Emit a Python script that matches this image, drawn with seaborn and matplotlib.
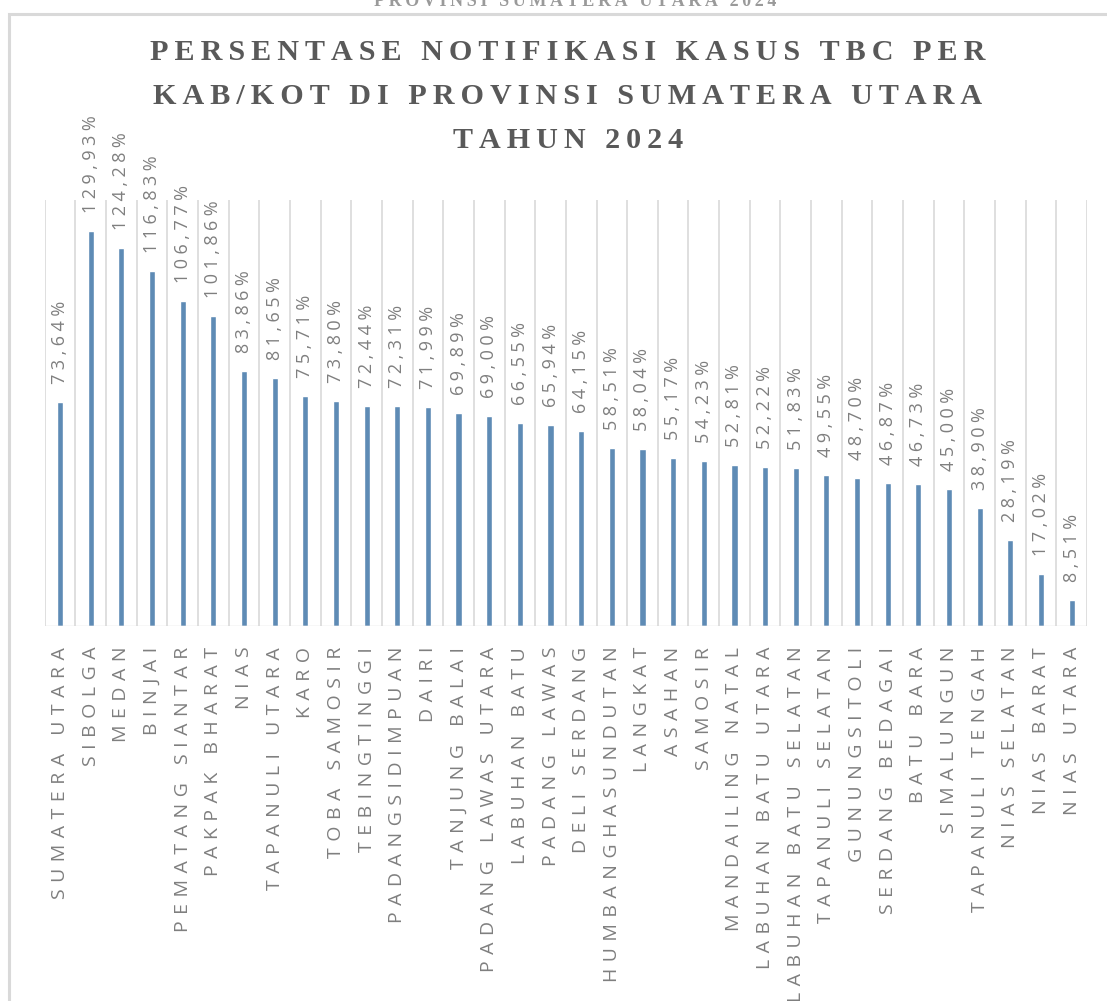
import numpy as np
import pandas as pd
import matplotlib
matplotlib.use("Agg")
import matplotlib.pyplot as plt
from matplotlib.patches import Rectangle
import seaborn as sns

# Kabupaten/kota and their TBC case notification percentage (2024)
regions = [
    "SUMATERA UTARA", "SIBOLGA", "MEDAN", "BINJAI", "PEMATANG SIANTAR",
    "PAKPAK BHARAT", "NIAS", "TAPANULI UTARA", "KARO", "TOBA SAMOSIR",
    "TEBINGTINGGI", "PADANGSIDIMPUAN", "DAIRI", "TANJUNG BALAI",
    "PADANG LAWAS UTARA", "LABUHAN BATU", "PADANG LAWAS", "DELI SERDANG",
    "HUMBANGHASUNDUTAN", "LANGKAT", "ASAHAN", "SAMOSIR", "MANDAILING NATAL",
    "LABUHAN BATU UTARA", "LABUHAN BATU SELATAN", "TAPANULI SELATAN",
    "GUNUNGSITOLI", "SERDANG BEDAGAI", "BATU BARA", "SIMALUNGUN",
    "TAPANULI TENGAH", "NIAS SELATAN", "NIAS BARAT", "NIAS UTARA",
]
percentages = [
    73.64, 129.93, 124.28, 116.83, 106.77, 101.86, 83.86, 81.65, 75.71,
    73.80, 72.44, 72.31, 71.99, 69.89, 69.00, 66.55, 65.94, 64.15, 58.51,
    58.04, 55.17, 54.23, 52.81, 52.22, 51.83, 49.55, 48.70, 46.87, 46.73,
    45.00, 38.90, 28.19, 17.02, 8.51,
]

title_lines = [
    "PERSENTASE NOTIFIKASI KASUS TBC PER",
    "KAB/KOT DI PROVINSI SUMATERA UTARA",
    "TAHUN 2024",
]
header_text = "PROVINSI SUMATERA UTARA 2024"

BAR_COLOR = "#5E8BB5"
TEXT_GREY = "#7F7F7F"
TITLE_GREY = "#595959"
GRID_GREY = "#D9D9D9"

SANS = ["Open Sans", "DejaVu Sans"]
SERIF = ["Liberation Serif", "DejaVu Serif"]

THREE_PER_EM = "\u2004"
FOUR_PER_EM = "\u2005"
THIN_SPACE = "\u2009"


def spaced(text, sep=THIN_SPACE):
    """Widen the tracking of a label by putting a narrow spacer between all glyphs."""
    return sep.join(text)


def fmt_pct(v):
    return f"{v:.2f}".replace(".", ",") + "%"


df = pd.DataFrame({"region": regions, "pct": percentages})

sns.set_style("white")
plt.rcParams["font.family"] = SANS

W, H = 1107, 1001
fig = plt.figure(figsize=(W / 100, H / 100), dpi=100)
fig.patch.set_facecolor("white")

# Outer frame of the chart area (runs past the right and bottom edges)
fig.patches.append(Rectangle((9 / W, -0.1), 1.2, 1.1 - 14 / H, transform=fig.transFigure,
                             fill=False, edgecolor=GRID_GREY, linewidth=2.2))

left, right = 44.7 / W, 1087 / W
bottom, top = 1 - 626 / H, 1 - 200 / H
ax = fig.add_axes([left, bottom, right - left, top - bottom])

sns.barplot(data=df, x="region", y="pct", order=regions, color=BAR_COLOR,
            width=0.2, saturation=1, ax=ax)

n = len(regions)
ax.set_xlim(-0.5, n - 0.5)
ax.set_ylim(0, 140)
ax.set_yticks([])
ax.set_xlabel("")
ax.set_ylabel("")
for s in ax.spines.values():
    s.set_visible(False)

# Vertical separators between categories
ax.set_xticks(np.arange(-0.5, n, 1), minor=True)
ax.grid(which="minor", axis="x", color=GRID_GREY, linewidth=1.2)
ax.grid(which="major", visible=False)
ax.tick_params(axis="x", which="both", length=0)
ax.axhline(0, color=GRID_GREY, linewidth=1.0)

ax.set_xticks(range(n))
ax.set_xticklabels([spaced(r, THREE_PER_EM) for r in regions], rotation=90, va="top",
                   ha="center", fontsize=14, color=TEXT_GREY, family=SANS)
ax.tick_params(axis="x", pad=15)

# Value labels above each bar
for i, v in enumerate(percentages):
    ax.annotate(spaced(fmt_pct(v), FOUR_PER_EM), xy=(i, v), xytext=(0, 18),
                textcoords="offset pixels", rotation=90, ha="center", va="bottom",
                fontsize=13, color=TEXT_GREY, family=SANS, annotation_clip=False)

# Chart title
title_y = [1 - 52 / H, 1 - 96 / H, 1 - 140 / H]
for line, y in zip(title_lines, title_y):
    fig.text(568 / W, y, spaced(line), ha="center", va="center", fontsize=21.7,
             fontweight="bold", color=TITLE_GREY, family=SERIF)

# Page header line running off the top edge
fig.text(575 / W, 1 - 6 / H, spaced(header_text), ha="center", va="baseline",
         fontsize=13, fontweight="bold", color="#9A9A9A", family=SERIF)

fig.savefig("out.png", dpi=100, facecolor="white")
